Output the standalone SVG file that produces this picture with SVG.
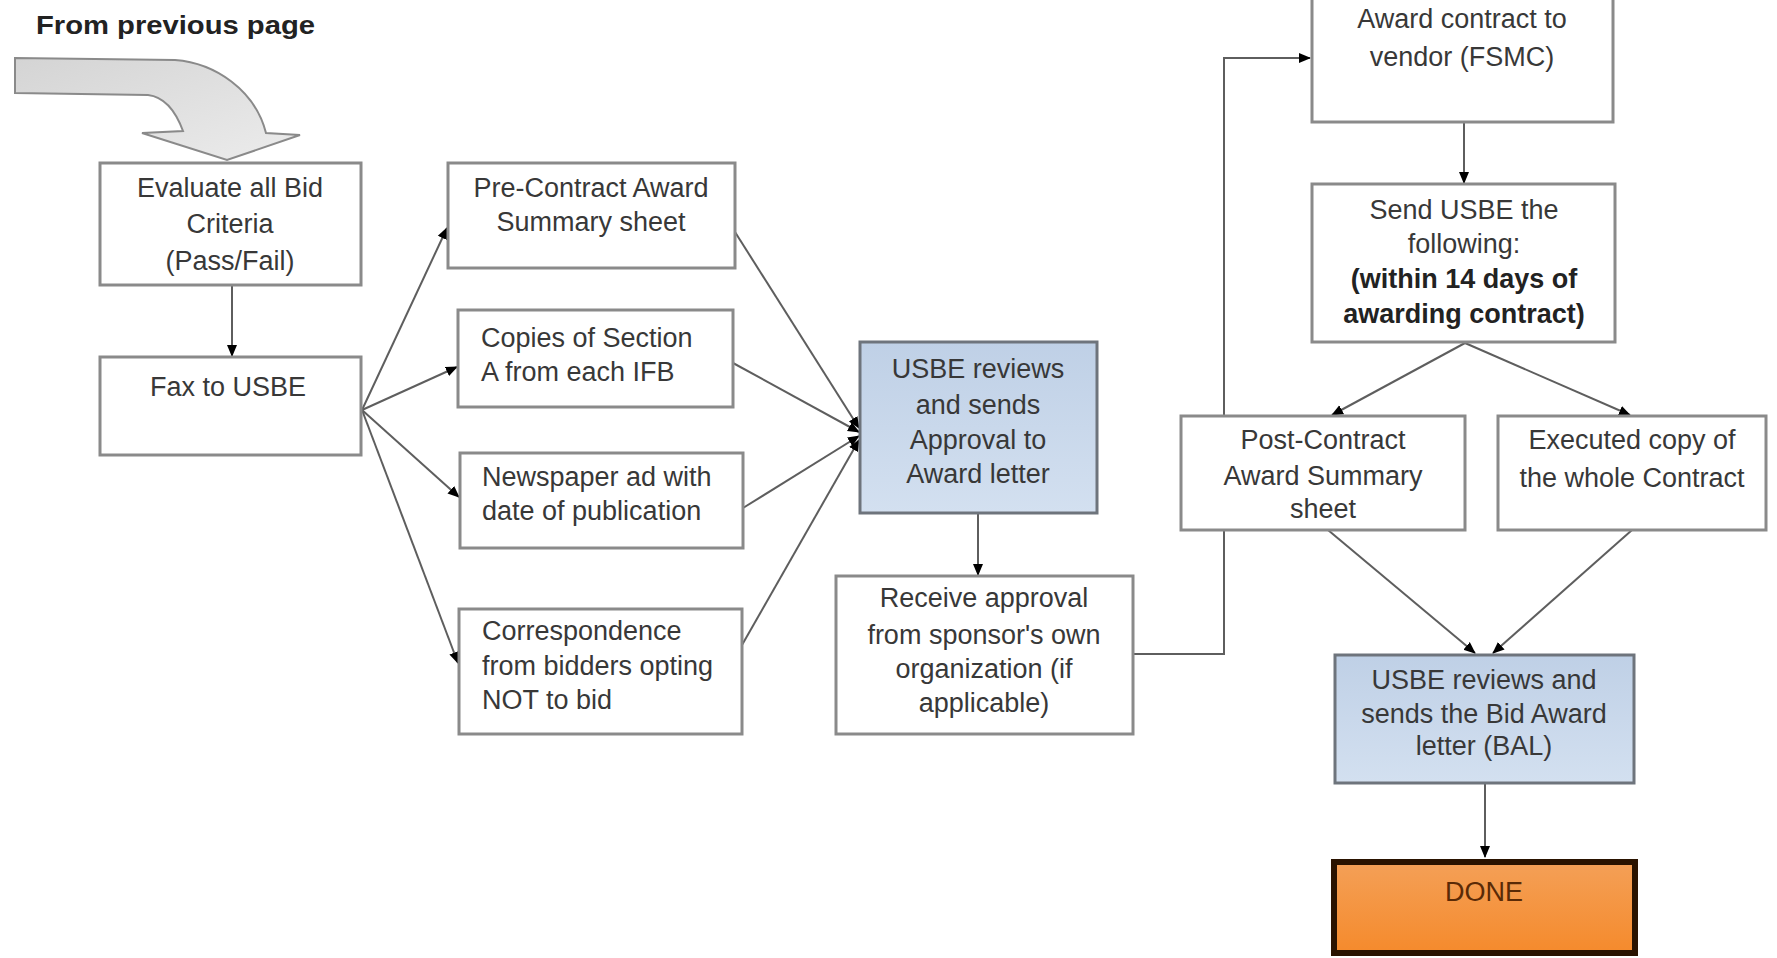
<svg xmlns="http://www.w3.org/2000/svg" width="1777" height="958" viewBox="0 0 1777 958">
<style>
.box{fill:#ffffff;stroke:#8a8a8a;stroke-width:3}
.blue{fill:url(#gBlue);stroke:#6e747c;stroke-width:3}
.t{font-family:"Liberation Sans",Arial,sans-serif;font-size:27px;fill:#383838}
.c{text-anchor:middle}
.b{font-weight:bold;fill:#222}
.con{fill:none;stroke:#5e5e5e;stroke-width:2}
</style>
<defs>
<marker id="ah" markerUnits="userSpaceOnUse" markerWidth="12" markerHeight="12" viewBox="0 0 12 12" refX="11" refY="6" orient="auto">
<path d="M0,1 L12,6 L0,11 Z" fill="#000"/>
</marker>
<linearGradient id="gBlue" x1="0" y1="0" x2="0" y2="1">
<stop offset="0" stop-color="#bfd0e6"/>
<stop offset="1" stop-color="#d3e0f0"/>
</linearGradient>
<linearGradient id="gGray" x1="0" y1="0" x2="1" y2="1">
<stop offset="0" stop-color="#d4d4d4"/>
<stop offset="1" stop-color="#ececec"/>
</linearGradient>
<linearGradient id="gOrange" x1="0" y1="0" x2="0" y2="1">
<stop offset="0" stop-color="#f4a057"/>
<stop offset="1" stop-color="#f58a2c"/>
</linearGradient>
</defs>

<g id="from-previous">
<text class="t b" x="36" y="34" font-size="25" textLength="279" lengthAdjust="spacingAndGlyphs" style="font-size:25px">From previous page</text>
<path d="M15,58 L175,60 C215,63 255,90 266,133 L300,135 L227,160 L142,133 L183,131 C176,112 165,97 148,95 L15,93 Z" fill="url(#gGray)" stroke="#8a8a8a" stroke-width="2"/>
</g>

<g id="connectors">
<path class="con" d="M232,285 L232,356" marker-end="url(#ah)"/>
<path class="con" d="M362,410 L447,228" marker-end="url(#ah)"/>
<path class="con" d="M362,410 L457,367" marker-end="url(#ah)"/>
<path class="con" d="M362,410 L459,497" marker-end="url(#ah)"/>
<path class="con" d="M362,410 L458,663" marker-end="url(#ah)"/>
<path class="con" d="M735,232 L859,428" marker-end="url(#ah)"/>
<path class="con" d="M733,363 L859,432" marker-end="url(#ah)"/>
<path class="con" d="M743,508 L859,436" marker-end="url(#ah)"/>
<path class="con" d="M742,645 L859,440" marker-end="url(#ah)"/>
<path class="con" d="M978,513 L978,575" marker-end="url(#ah)"/>
<path class="con" d="M1133,654 L1224,654 L1224,58 L1310,58" marker-end="url(#ah)"/>
<path class="con" d="M1464,122 L1464,183" marker-end="url(#ah)"/>
<path class="con" d="M1465,343 L1332,415" marker-end="url(#ah)"/>
<path class="con" d="M1465,343 L1630,415" marker-end="url(#ah)"/>
<path class="con" d="M1328,530 L1475,653" marker-end="url(#ah)"/>
<path class="con" d="M1632,530 L1493,653" marker-end="url(#ah)"/>
<path class="con" d="M1485,783 L1485,857" marker-end="url(#ah)"/>
</g>

<g id="evaluate">
<rect class="box" x="100" y="163" width="261" height="122"/>
<text class="t c" x="230" y="197">Evaluate all Bid</text>
<text class="t c" x="230" y="233">Criteria</text>
<text class="t c" x="230" y="270">(Pass/Fail)</text>
</g>

<g id="fax">
<rect class="box" x="100" y="357" width="261" height="98"/>
<text class="t c" x="228" y="396">Fax to USBE</text>
</g>

<g id="pre-contract">
<rect class="box" x="448" y="163" width="287" height="105"/>
<text class="t c" x="591" y="197">Pre-Contract Award</text>
<text class="t c" x="591" y="231">Summary sheet</text>
</g>

<g id="copies">
<rect class="box" x="458" y="310" width="275" height="97"/>
<text class="t" x="481" y="347">Copies of Section</text>
<text class="t" x="481" y="381">A from each IFB</text>
</g>

<g id="newspaper">
<rect class="box" x="460" y="453" width="283" height="95"/>
<text class="t" x="482" y="486">Newspaper ad with</text>
<text class="t" x="482" y="520">date of publication</text>
</g>

<g id="correspondence">
<rect class="box" x="459" y="609" width="283" height="125"/>
<text class="t" x="482" y="640">Correspondence</text>
<text class="t" x="482" y="675">from bidders opting</text>
<text class="t" x="482" y="709">NOT to bid</text>
</g>

<g id="usbe-approval">
<rect class="blue" x="860" y="342" width="237" height="171"/>
<text class="t c" x="978" y="378">USBE reviews</text>
<text class="t c" x="978" y="414">and sends</text>
<text class="t c" x="978" y="449">Approval to</text>
<text class="t c" x="978" y="483">Award letter</text>
</g>

<g id="receive">
<rect class="box" x="836" y="576" width="297" height="158"/>
<text class="t c" x="984" y="607">Receive approval</text>
<text class="t c" x="984" y="644">from sponsor's own</text>
<text class="t c" x="984" y="678">organization (if</text>
<text class="t c" x="984" y="712">applicable)</text>
</g>

<g id="award">
<rect class="box" x="1312" y="-10" width="301" height="132"/>
<text class="t c" x="1462" y="28">Award contract to</text>
<text class="t c" x="1462" y="66">vendor (FSMC)</text>
</g>

<g id="send">
<rect class="box" x="1312" y="184" width="303" height="158"/>
<text class="t c" x="1464" y="219">Send USBE the</text>
<text class="t c" x="1464" y="253">following:</text>
<text class="t c b" x="1464" y="288">(within 14 days of</text>
<text class="t c b" x="1464" y="323">awarding contract)</text>
</g>

<g id="post-contract">
<rect class="box" x="1181" y="416" width="284" height="114"/>
<text class="t c" x="1323" y="449">Post-Contract</text>
<text class="t c" x="1323" y="485">Award Summary</text>
<text class="t c" x="1323" y="518">sheet</text>
</g>

<g id="executed">
<rect class="box" x="1498" y="416" width="268" height="114"/>
<text class="t c" x="1632" y="449">Executed copy of</text>
<text class="t c" x="1632" y="487">the whole Contract</text>
</g>

<g id="usbe-bal">
<rect class="blue" x="1335" y="655" width="299" height="128"/>
<text class="t c" x="1484" y="689">USBE reviews and</text>
<text class="t c" x="1484" y="723">sends the Bid Award</text>
<text class="t c" x="1484" y="755">letter  (BAL)</text>
</g>

<g id="done">
<rect x="1334" y="862" width="301" height="91" fill="url(#gOrange)" stroke="#2a1300" stroke-width="6"/>
<text class="t c" x="1484" y="901" style="fill:#5a2a06">DONE</text>
</g>
</svg>
